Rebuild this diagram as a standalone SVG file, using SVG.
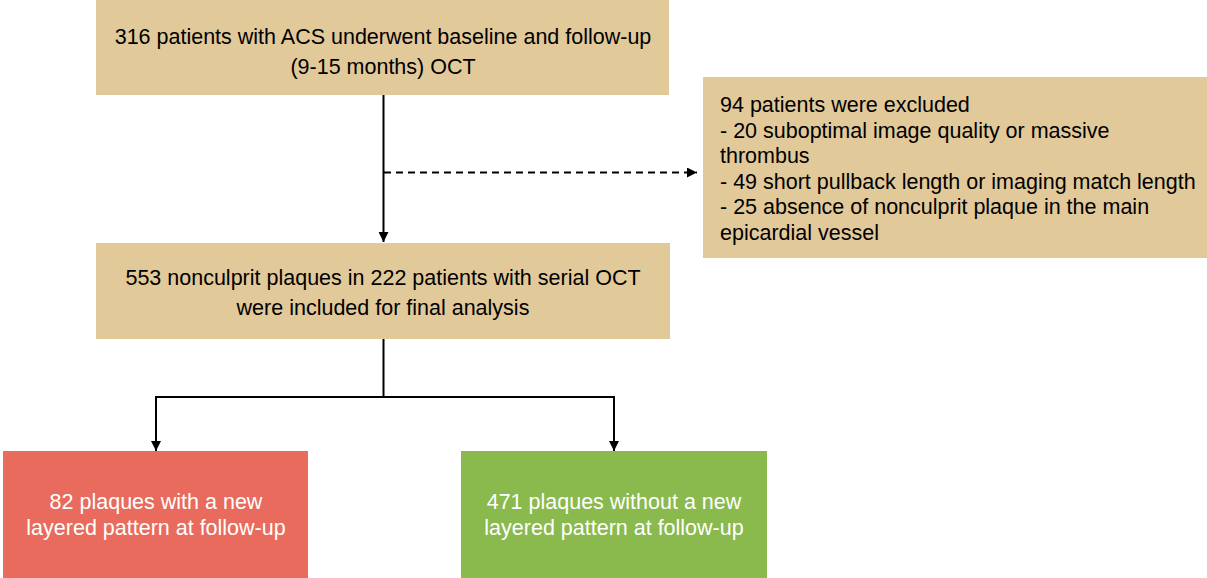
<svg xmlns="http://www.w3.org/2000/svg" width="1207" height="578" viewBox="0 0 1207 578">
<style>
.t{font-family:"Liberation Sans",Arial,sans-serif;font-size:21.5px;fill:#000}
.w{font-family:"Liberation Sans",Arial,sans-serif;font-size:21.5px;fill:#fff}
.c{text-anchor:middle}
.tan{fill:#E2C99A}
.ln{stroke:#000;stroke-width:2;fill:none}
</style>
<defs>
<marker id="ah" viewBox="0 0 10 10" refX="10" refY="5" markerWidth="5" markerHeight="5" markerUnits="strokeWidth" orient="auto">
<path d="M0,0 L10,5 L0,10 z" fill="#000"/>
</marker>
</defs>
<g id="connectors">
<line class="ln" x1="383.5" y1="95" x2="383.5" y2="242" marker-end="url(#ah)"/>
<line class="ln" x1="384" y1="172.5" x2="697" y2="172.5" stroke-dasharray="7,5" marker-end="url(#ah)"/>
<polyline class="ln" points="383.5,339 383.5,397"/>
<polyline class="ln" points="156,397 614,397 614,451" marker-end="url(#ah)"/>
<line class="ln" x1="156" y1="396" x2="156" y2="451" marker-end="url(#ah)"/>
</g>
<g id="n-start">
<rect class="tan" x="96" y="0" width="573" height="95"/>
<text class="t c" x="383" y="43.5">316 patients with ACS underwent baseline and follow-up</text>
<text class="t c" x="383" y="73.5">(9-15 months) OCT</text>
</g>
<g id="n-excluded">
<rect class="tan" x="703" y="77" width="504" height="181"/>
<text class="t" x="720" y="112">94 patients were excluded</text>
<text class="t" x="720" y="137.5">- 20 suboptimal image quality or massive</text>
<text class="t" x="720" y="163">thrombus</text>
<text class="t" x="720" y="188.5">- 49 short pullback length or imaging match length</text>
<text class="t" x="720" y="214">- 25 absence of nonculprit plaque in the main</text>
<text class="t" x="720" y="239.5">epicardial vessel</text>
</g>
<g id="n-included">
<rect class="tan" x="96" y="243" width="574" height="96"/>
<text class="t c" x="383" y="285">553 nonculprit plaques in 222 patients with serial OCT</text>
<text class="t c" x="383" y="315">were included for final analysis</text>
</g>
<g id="n-new">
<rect x="3" y="451" width="305" height="127" fill="#E86B5D"/>
<text class="w c" x="156" y="509">82 plaques with a new</text>
<text class="w c" x="156" y="535">layered pattern at follow-up</text>
</g>
<g id="n-nonew">
<rect x="461" y="451" width="306" height="127" fill="#8AB94E"/>
<text class="w c" x="614" y="509">471 plaques without a new</text>
<text class="w c" x="614" y="535">layered pattern at follow-up</text>
</g>
</svg>
